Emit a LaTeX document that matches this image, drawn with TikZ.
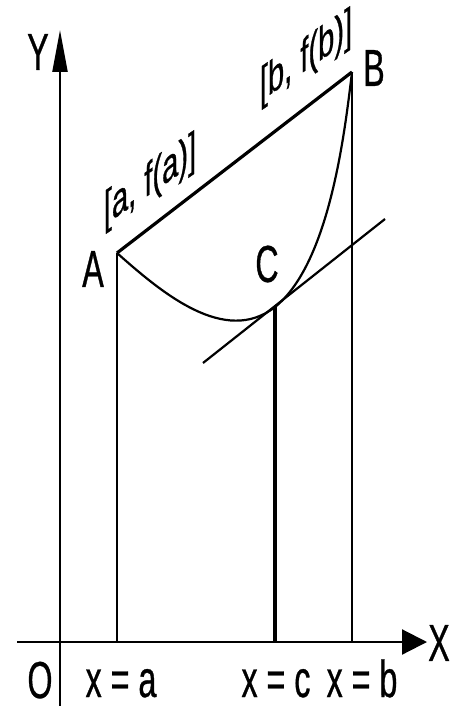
\documentclass[tikz,border=0pt]{standalone}
\usepackage{fontspec}
\setmainfont{Liberation Sans}[FakeStretch=0.62, FakeBold=0.6]
\usetikzlibrary{arrows.meta}
\tikzset{lbl/.style={font=\fontsize{26}{30}\selectfont, inner sep=0pt},
         slbl/.style={font=\fontsize{23.5}{28}\selectfont, inner sep=0pt, yslant=0.68}}
\begin{document}
\begin{tikzpicture}[x=0.5pt, y=-0.5pt, line width=1.1pt]
    \useasboundingbox (0,0) rectangle (450,706);
    % Points on the curve and axes
    \coordinate (A) at (117,253);
    \coordinate (B) at (352,72);
    \coordinate (C) at (275,307);
    \coordinate (O) at (60,642);
    \coordinate (Ytop) at (60,30);
    \coordinate (Ybot) at (60,706);
    \coordinate (Xleft) at (17,642);
    \coordinate (Xright) at (427,642);
    \draw[-{Triangle[length=21pt,width=7.5pt]}] (Ybot) -- (Ytop);
    \draw[-{Triangle[length=12.5pt,width=12.5pt]}] (Xleft) -- (Xright);
    % Ordinates
    \coordinate (Afoot) at (A |- O);
    \coordinate (Bfoot) at (B |- O);
    \coordinate (Cfoot) at (C |- O);
    \draw (A) -- (Afoot);
    \draw[line width=1.6pt] (C) -- (Cfoot);
    \draw (B) -- (Bfoot);
    % Chord, curve and tangent
    \draw[line width=1.6pt] (A) -- (B);
    \draw (A) .. controls (162,293) and (225,346) .. (C)
              .. controls (330,263) and (345,130) .. (B);
    \coordinate (T1) at (203,363);
    \coordinate (T2) at (385,219);
    \draw (T1) -- (T2);
    % Labels
    \node[lbl] (Ylbl) at (38,52) {Y};
    \node[lbl] (Xlbl) at (439,643) {X};
    \node[lbl, anchor=base] (Olbl) at (40,698) {O};
    \node[lbl, anchor=base] (xa) at (121,697) {x = a};
    \node[lbl, anchor=base] (xc) at (276,697) {x = c};
    \node[lbl, anchor=base] (xb) at (362,697) {x = b};
    \node[lbl] (Albl) at (93,269) {A};
    \node[lbl] (Blbl) at (374,68) {B};
    \node[lbl] (Clbl) at (267,264) {C};
    \node[slbl] (falbl) at (150,182) {[a, f(a)]};
    \node[slbl] (fblbl) at (306,58) {[b, f(b)]};
\end{tikzpicture}
\end{document}
